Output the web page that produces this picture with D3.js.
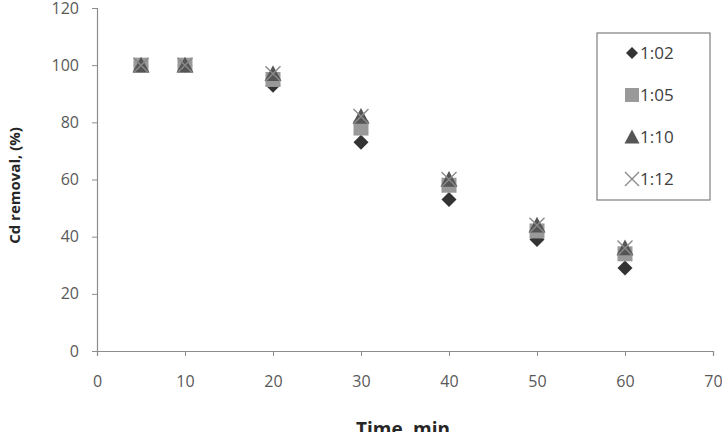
<!DOCTYPE html>
<html>
<head>
<meta charset="utf-8">
<script src="https://cdn.jsdelivr.net/npm/d3@7"></script>
<style>
  body { margin: 0; background: #fff; }
  text { font-family: "Open Sans", "Liberation Sans", sans-serif; }
</style>
</head>
<body>
<div id="chart"></div>
<script>
// data
var times = [5, 10, 20, 30, 40, 50, 60];
var ratios = ["1:02", "1:05", "1:10", "1:12"];
var r102 = [100, 100, 93, 73, 53, 39, 29];
var r105 = [100, 100, 95, 78, 58, 42, 34];
var r110 = [100, 100, 97, 82, 60, 44, 36];
var r112 = [100, 100, 97, 82, 60, 44, 36];
var xTicks = [0, 10, 20, 30, 40, 50, 60, 70];
var yTicks = [0, 20, 40, 60, 80, 100, 120];

var W = 722, H = 432;
var margin = { top: 8, right: 9, bottom: 81, left: 97 };
var width = W - margin.left - margin.right;
var height = H - margin.top - margin.bottom;

const svg = d3.select("#chart")
    .append("svg")
    .attr("width", W)
    .attr("height", H)
    .append("g")
    .attr("transform", "translate(" + margin.left + "," + margin.top + ")");

var x = d3.scaleLinear().domain([0, 70]).range([0, width]);
var y = d3.scaleLinear().domain([0, 120]).range([height, 0]);

// x axis
var gx = svg.append("g")
    .attr("transform", "translate(0," + height + ")")
    .call(d3.axisBottom(x).tickValues(xTicks).tickSize(5).tickPadding(20));
gx.select(".domain").attr("stroke", "#8c8c8c").attr("stroke-width", 1.2);
gx.selectAll(".tick line").attr("stroke", "#8c8c8c");
gx.selectAll("text").style("fill", "#595959").style("font-size", "16px");

// y axis
var gy = svg.append("g")
    .call(d3.axisLeft(y).tickValues(yTicks).tickSize(5).tickPadding(13));
gy.select(".domain").attr("stroke", "#8c8c8c").attr("stroke-width", 1.2);
gy.selectAll(".tick line").attr("stroke", "#8c8c8c");
gy.selectAll("text").style("fill", "#595959").style("font-size", "16px");

// axis titles
svg.append("text")
    .attr("x", x(35) - 2)
    .attr("y", height + 85)
    .attr("text-anchor", "middle")
    .style("font-weight", "bold")
    .style("font-size", "19px")
    .style("fill", "#262626")
    .text("Time, min");

svg.append("text")
    .attr("transform", "translate(" + (-77) + "," + (y(60) + 6) + ")rotate(-90)")
    .attr("text-anchor", "middle")
    .style("font-weight", "bold")
    .style("font-size", "15px")
    .style("fill", "#262626")
    .text("Cd removal, (%)");

var series = [
    { name: ratios[0], values: r102, shape: "diamond", size: 7.5, fill: "#333333" },
    { name: ratios[1], values: r105, shape: "square", size: 7.5, fill: "#999999" },
    { name: ratios[2], values: r110, shape: "triangle", size: 8.5, fill: "#555555" },
    { name: ratios[3], values: r112, shape: "x", size: 7.5, fill: "#8a8a8a" }
];

function markerPath(shape, r) {
    if (shape === "diamond") return "M0," + (-r) + "L" + r + ",0L0," + r + "L" + (-r) + ",0Z";
    if (shape === "square") return "M" + (-r) + "," + (-r) + "h" + 2 * r + "v" + 2 * r + "h" + (-2 * r) + "Z";
    if (shape === "triangle") return "M0," + (-r) + "L" + r + "," + (r * 0.85) + "L" + (-r) + "," + (r * 0.85) + "Z";
    return "M" + (-r) + "," + (-r) + "L" + r + "," + r + "M" + (-r) + "," + r + "L" + r + "," + (-r);
}

function drawMarker(g, s, r) {
    var p = g.append("path").attr("d", markerPath(s.shape, r));
    if (s.shape === "x") {
        p.attr("stroke", s.fill).attr("stroke-width", 1.4).attr("fill", "none");
    } else {
        p.attr("fill", s.fill);
    }
}

series.forEach(function(s) {
    svg.selectAll(null)
        .data(times)
        .enter()
        .append("g")
        .attr("transform", function(t, i) { return "translate(" + x(t) + "," + y(s.values[i]) + ")"; })
        .each(function() { drawMarker(d3.select(this), s, s.size); });
});

// legend
var legend = svg.append("g")
    .attr("transform", "translate(" + (597 - margin.left) + "," + (33 - margin.top) + ")");
legend.append("rect")
    .attr("width", 113)
    .attr("height", 167)
    .attr("fill", "#fff")
    .attr("stroke", "#7f7f7f")
    .attr("stroke-width", 1.2);

var legendR = [6, 7, 7.5, 7];
series.forEach(function(s, i) {
    var row = legend.append("g")
        .attr("transform", "translate(35," + (20 + i * 42) + ")");
    drawMarker(row.append("g"), s, legendR[i]);
    row.append("text")
        .attr("x", 8)
        .attr("dy", "0.36em")
        .style("font-size", "17px")
        .style("fill", "#404040")
        .text(s.name);
});
</script>
</body>
</html>
